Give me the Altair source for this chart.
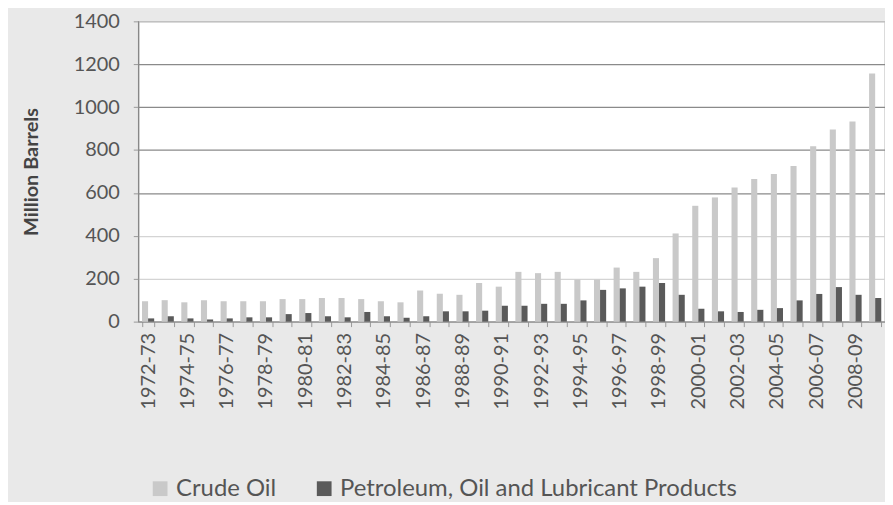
import altair as alt
import pandas as pd

years = ["1972-73","1973-74","1974-75","1975-76","1976-77","1977-78","1978-79","1979-80",
         "1980-81","1981-82","1982-83","1983-84","1984-85","1985-86","1986-87","1987-88",
         "1988-89","1989-90","1990-91","1991-92","1992-93","1993-94","1994-95","1995-96",
         "1996-97","1997-98","1998-99","1999-00","2000-01","2001-02","2002-03","2003-04",
         "2004-05","2005-06","2006-07","2007-08","2008-09","2009-10"]
crude = [95, 100, 90, 100, 95, 95, 95, 105, 105, 110, 110, 105, 95, 90, 145, 130,
         125, 180, 163, 232, 226, 232, 196, 196, 252, 232, 296, 411, 540, 579, 625, 665,
         688, 725, 818, 896, 933, 1157]
pol = [15, 25, 15, 10, 15, 20, 20, 35, 40, 25, 20, 45, 25, 18, 25, 48,
       48, 51, 74, 74, 83, 83, 99, 148, 155, 163, 180, 125, 60, 48, 45, 55,
       63, 99, 129, 161, 125, 110]
series = ["Crude Oil", "Petroleum, Oil and Lubricant  Products"]
shown_labels = years[::2]
y_ticks = [0, 200, 400, 600, 800, 1000, 1200, 1400]

rows = []
for i, yr in enumerate(years):
    rows.append({"year": yr, "series": series[0], "value": crude[i], "order": 0})
    rows.append({"year": yr, "series": series[1], "value": pol[i], "order": 1})
df = pd.DataFrame(rows)

label_list = "[" + ",".join("'" + s + "'" for s in shown_labels) + "]"
FONT = "Lato"

chart = alt.Chart(df).mark_bar().encode(
    x=alt.X("year:N", sort=years,
            scale=alt.Scale(paddingInner=0.38, paddingOuter=0.19),
            axis=alt.Axis(title=None, labelAngle=-90, labelFontSize=20, labelFont=FONT,
                          labelColor="#555", labelPadding=6, tickBand="extent",
                          tickSize=5, tickColor="#999", domainColor="#888",
                          labelExpr="indexof(" + label_list + ", datum.value) >= 0 ? datum.value : ''")),
    xOffset=alt.XOffset("series:N", sort=series, scale=alt.Scale(paddingInner=0)),
    y=alt.Y("value:Q", scale=alt.Scale(domain=[0, 1400], nice=False),
            axis=alt.Axis(title="Million Barrels", values=y_ticks, format="d", labelFontSize=20,
                          labelFont=FONT, labelColor="#555", titleFont=FONT,
                          titleFontSize=20, titleFontWeight="bold", titleColor="#444",
                          titlePadding=32, labelPadding=14, tickSize=5, tickColor="#999",
                          domainColor="#888",
                          gridColor={"condition": {"test": "datum.value >= 600 && datum.value <= 1200", "value": "#8a8a8a"}, "value": "#d4d4d4"},
                          gridWidth=1.2)),
    color=alt.Color("series:N", sort=series,
                    scale=alt.Scale(domain=series, range=["#c9c9c9", "#5a5a5a"]),
                    legend=alt.Legend(title=None, orient="none", direction="horizontal",
                                      legendX=10, legendY=458, labelFont=FONT,
                                      labelFontSize=24, labelColor="#555",
                                      symbolType="square", symbolSize=220,
                                      symbolStrokeWidth=0, columnPadding=36,
                                      labelLimit=700)),
).properties(
    width=751, height=302,
    autosize=alt.AutoSizeParams(type="none"),
    padding={"left": 131, "top": 12, "right": 0, "bottom": 180},
    background="#e9e9e9",
).configure_view(fill="white", stroke="#888", strokeWidth=1.2)

chart.save("out.html", embed_options={"renderer": "svg", "actions": False})
